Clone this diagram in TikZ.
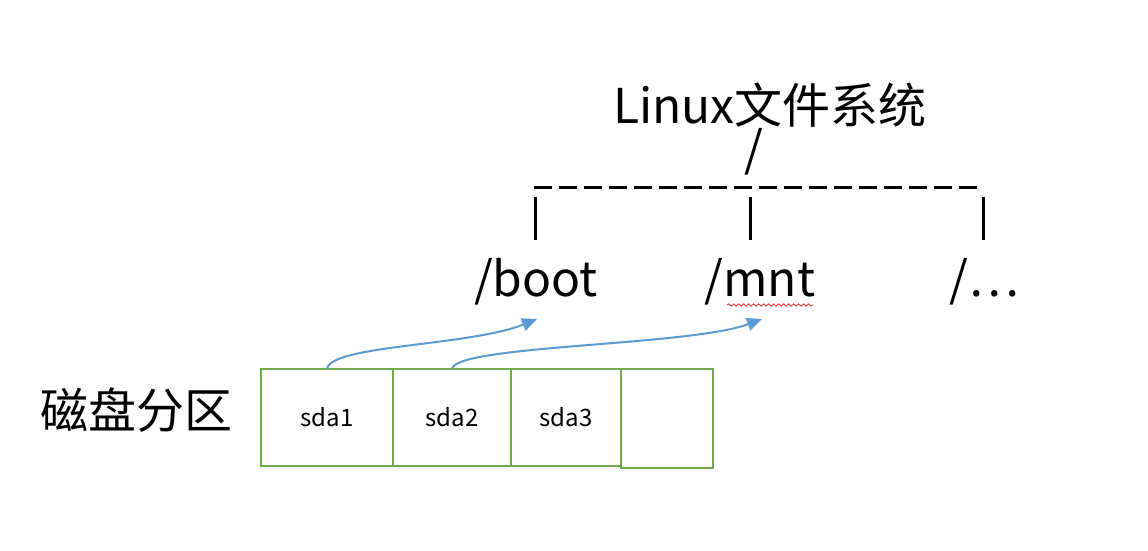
\documentclass[tikz,border=0pt]{standalone}
\usepackage{fontspec}
\setmainfont{Noto Sans CJK SC}
\usetikzlibrary{arrows.meta}
\usetikzlibrary{decorations.pathmorphing}
\definecolor{partgreen}{RGB}{112,173,71}
\definecolor{mountblue}{RGB}{91,155,213}
\definecolor{spellred}{RGB}{230,40,40}

\begin{document}
\begin{tikzpicture}[x=1pt,y=-1pt,
    big/.style={font=\fontsize{48}{56}\selectfont, inner sep=0pt},
    part/.style={draw=partgreen, line width=2pt, minimum height=97pt, inner sep=0pt,
        outer sep=0pt, anchor=north west, font=\fontsize{24}{28}\selectfont},
    bar/.style={line width=3pt},
    mount/.style={draw=mountblue, line width=2pt, -{Triangle[length=15pt,width=13pt]}}]
    \useasboundingbox (0,0) rectangle (1148,550);

    \node[big] (fs) at (770,105) {Linux文件系统};
    \node[big] (root) at (754,152) {/};

    \node[big] (boot) at (536,282) {/boot};
    \node[big] (mnt) at (760,282) {/mnt};
    \node[big] (etc) at (984,282) {/…};

    \coordinate (dl) at (534,187);
    \coordinate (dr) at (980,187);
    \coordinate (b1) at (535,197);
    \coordinate (b2) at (750,197);
    \coordinate (b3) at (983,197);
    \coordinate (e1) at (535,240);
    \coordinate (e2) at (750,240);
    \coordinate (e3) at (983,240);

    \draw[line width=3pt, dash pattern=on 17.5pt off 7.5pt] (dl) -- (dr);
    \draw[bar] (b1) -- (e1);
    \draw[bar] (b2) -- (e2);
    \draw[bar] (b3) -- (e3);

    \draw[spellred, line width=0.8pt, decorate, decoration={snake, amplitude=1.2pt, segment length=5pt}]
        (727,305) -- (813,305);

    \node[big] (disk) at (136,410) {磁盘分区};
    \node[part, minimum width=132pt] (sda1) at (261,369) {sda1};
    \node[part, minimum width=118pt] (sda2) at (sda1.north east) {sda2};
    \node[part, minimum width=110pt] (sda3) at (sda2.north east) {sda3};
    \node[part, minimum width=92pt, minimum height=99pt] (sda4) at (sda3.north east) {};

    \coordinate (bootin) at (537,319);
    \coordinate (mntin) at (762,319);
    \draw[mount] (sda1.north) .. controls (330,345) and (470,346) .. (bootin);
    \draw[mount] (sda2.north) .. controls (455,345) and (690,346) .. (mntin);
\end{tikzpicture}
\end{document}
